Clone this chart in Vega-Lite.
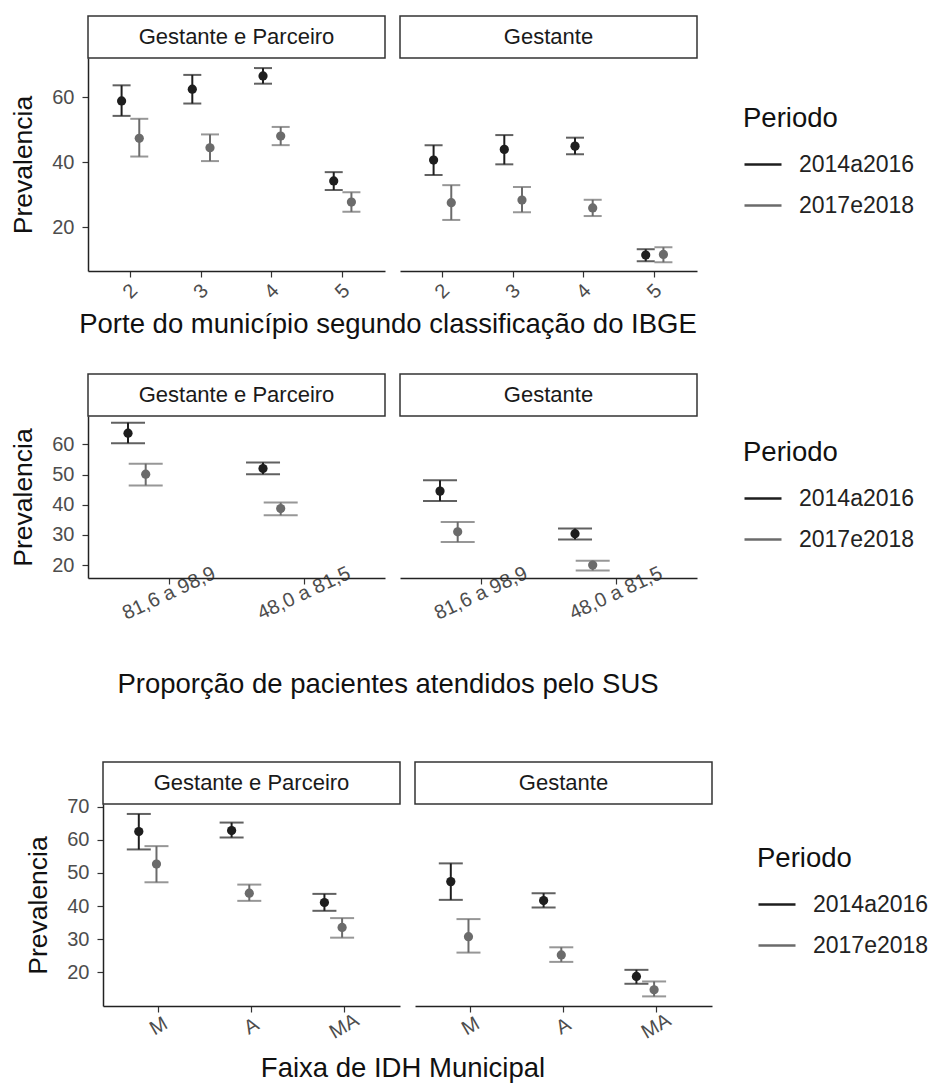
{
  "$schema": "https://vega.github.io/schema/vega-lite/v6.json",
  "padding": {"left": 3, "top": 13, "right": 2, "bottom": 0},
  "background": "white",
  "config": {
    "font": "Liberation Sans",
    "view": {"stroke": null},
    "axis": {"grid": false, "labelFontSize": 20, "labelColor": "#4d4d4d", "tickColor": "#333333", "tickSize": 6, "tickWidth": 1.2, "domainColor": "#222222", "domainWidth": 1.5, "titleFontSize": 26.5, "titleFontWeight": "normal", "titleColor": "#111111"},
    "legend": {"titleFontSize": 27.5, "titleFontWeight": "normal", "titleColor": "#111111", "labelFontSize": 23, "labelColor": "#222222", "symbolType": "stroke", "symbolSize": 1369, "symbolStrokeWidth": 2.5, "labelOffset": 16, "rowPadding": 9, "titlePadding": 12, "padding": 0},
    "title": {"fontSize": 27.5, "fontWeight": "normal", "color": "#111111"}
  },
  "datasets": {
    "porte": [
      {"panel": "Gestante e Parceiro", "cat": "2", "Periodo": "2014a2016", "prev": 58.8, "lo": 54.2, "hi": 63.6},
      {"panel": "Gestante e Parceiro", "cat": "2", "Periodo": "2017e2018", "prev": 47.3, "lo": 41.7, "hi": 53.3},
      {"panel": "Gestante e Parceiro", "cat": "3", "Periodo": "2014a2016", "prev": 62.4, "lo": 58.0, "hi": 66.8},
      {"panel": "Gestante e Parceiro", "cat": "3", "Periodo": "2017e2018", "prev": 44.4, "lo": 40.3, "hi": 48.5},
      {"panel": "Gestante e Parceiro", "cat": "4", "Periodo": "2014a2016", "prev": 66.5, "lo": 64.1, "hi": 68.9},
      {"panel": "Gestante e Parceiro", "cat": "4", "Periodo": "2017e2018", "prev": 48.0, "lo": 45.2, "hi": 50.8},
      {"panel": "Gestante e Parceiro", "cat": "5", "Periodo": "2014a2016", "prev": 34.2, "lo": 31.4, "hi": 36.9},
      {"panel": "Gestante e Parceiro", "cat": "5", "Periodo": "2017e2018", "prev": 27.7, "lo": 24.7, "hi": 30.7},
      {"panel": "Gestante", "cat": "2", "Periodo": "2014a2016", "prev": 40.6, "lo": 36.0, "hi": 45.2},
      {"panel": "Gestante", "cat": "2", "Periodo": "2017e2018", "prev": 27.5, "lo": 22.2, "hi": 32.9},
      {"panel": "Gestante", "cat": "3", "Periodo": "2014a2016", "prev": 43.9, "lo": 39.3, "hi": 48.3},
      {"panel": "Gestante", "cat": "3", "Periodo": "2017e2018", "prev": 28.3, "lo": 24.6, "hi": 32.3},
      {"panel": "Gestante", "cat": "4", "Periodo": "2014a2016", "prev": 44.9, "lo": 42.4, "hi": 47.5},
      {"panel": "Gestante", "cat": "4", "Periodo": "2017e2018", "prev": 25.9, "lo": 23.4, "hi": 28.4},
      {"panel": "Gestante", "cat": "5", "Periodo": "2014a2016", "prev": 11.4, "lo": 9.5, "hi": 13.2},
      {"panel": "Gestante", "cat": "5", "Periodo": "2017e2018", "prev": 11.6, "lo": 9.2, "hi": 13.8}
    ],
    "sus": [
      {"panel": "Gestante e Parceiro", "cat": "81,6 a 98,9", "Periodo": "2014a2016", "prev": 63.7, "lo": 60.4, "hi": 67.2},
      {"panel": "Gestante e Parceiro", "cat": "81,6 a 98,9", "Periodo": "2017e2018", "prev": 50.1, "lo": 46.4, "hi": 53.6},
      {"panel": "Gestante e Parceiro", "cat": "48,0 a 81,5", "Periodo": "2014a2016", "prev": 52.0, "lo": 50.1, "hi": 54.0},
      {"panel": "Gestante e Parceiro", "cat": "48,0 a 81,5", "Periodo": "2017e2018", "prev": 38.7, "lo": 36.5, "hi": 40.7},
      {"panel": "Gestante", "cat": "81,6 a 98,9", "Periodo": "2014a2016", "prev": 44.5, "lo": 41.2, "hi": 48.1},
      {"panel": "Gestante", "cat": "81,6 a 98,9", "Periodo": "2017e2018", "prev": 31.0, "lo": 27.6, "hi": 34.3},
      {"panel": "Gestante", "cat": "48,0 a 81,5", "Periodo": "2014a2016", "prev": 30.4, "lo": 28.5, "hi": 32.1},
      {"panel": "Gestante", "cat": "48,0 a 81,5", "Periodo": "2017e2018", "prev": 20.0, "lo": 18.2, "hi": 21.4}
    ],
    "idh": [
      {"panel": "Gestante e Parceiro", "cat": "M", "Periodo": "2014a2016", "prev": 62.5, "lo": 57.1, "hi": 67.8},
      {"panel": "Gestante e Parceiro", "cat": "M", "Periodo": "2017e2018", "prev": 52.7, "lo": 47.2, "hi": 58.1},
      {"panel": "Gestante e Parceiro", "cat": "A", "Periodo": "2014a2016", "prev": 62.8, "lo": 60.7, "hi": 65.2},
      {"panel": "Gestante e Parceiro", "cat": "A", "Periodo": "2017e2018", "prev": 43.9, "lo": 41.6, "hi": 46.5},
      {"panel": "Gestante e Parceiro", "cat": "MA", "Periodo": "2014a2016", "prev": 41.1, "lo": 38.6, "hi": 43.7},
      {"panel": "Gestante e Parceiro", "cat": "MA", "Periodo": "2017e2018", "prev": 33.6, "lo": 30.5, "hi": 36.4},
      {"panel": "Gestante", "cat": "M", "Periodo": "2014a2016", "prev": 47.4, "lo": 41.9, "hi": 52.9},
      {"panel": "Gestante", "cat": "M", "Periodo": "2017e2018", "prev": 30.8, "lo": 26.0, "hi": 36.1},
      {"panel": "Gestante", "cat": "A", "Periodo": "2014a2016", "prev": 41.7, "lo": 39.6, "hi": 43.9},
      {"panel": "Gestante", "cat": "A", "Periodo": "2017e2018", "prev": 25.3, "lo": 23.2, "hi": 27.6},
      {"panel": "Gestante", "cat": "MA", "Periodo": "2014a2016", "prev": 18.8, "lo": 16.6, "hi": 20.8},
      {"panel": "Gestante", "cat": "MA", "Periodo": "2017e2018", "prev": 14.8, "lo": 12.8, "hi": 17.3}
    ]
  },
  "spacing": 34,
  "vconcat": [
    {
      "spacing": 0,
      "hconcat": [
        {"width": 1, "height": 1, "data": {"values": [{"s": 0}]}, "mark": {"type": "point", "opacity": 0}, "encoding": {}},
        {
          "title": {"text": "Porte do município segundo classificação do IBGE", "orient": "bottom", "anchor": "start", "frame": "group", "align": "center", "dx": 300, "offset": 9},
          "columns": 2,
          "spacing": {"row": 0, "column": 15},
          "bounds": "flush",
          "resolve": {"scale": {"color": "independent"}},
          "concat": [
            {"width": 297, "height": 42, "view": {"stroke": "#333333", "strokeWidth": 1.5}, "data": {"values": [{"panel": "Gestante e Parceiro"}]}, "mark": {"type": "text", "fontSize": 22, "color": "#1a1a1a"}, "encoding": {"text": {"field": "panel", "type": "nominal"}}},
            {"width": 297, "height": 42, "view": {"stroke": "#333333", "strokeWidth": 1.5}, "data": {"values": [{"panel": "Gestante"}]}, "mark": {"type": "text", "fontSize": 22, "color": "#1a1a1a"}, "encoding": {"text": {"field": "panel", "type": "nominal"}}},
            {
              "width": 297, "height": 213,
              "data": {"name": "porte"},
              "transform": [{"filter": {"field": "panel", "equal": "Gestante e Parceiro"}}],
              "encoding": {
                "x": {"field": "cat", "type": "nominal", "sort": ["2", "3", "4", "5"], "scale": {"type": "band", "paddingInner": 0, "paddingOuter": 0.1}, "axis": {"title": null, "labelAngle": -45, "labelAlign": "center", "labelBaseline": "middle", "labelPadding": 14}},
                "xOffset": {"field": "Periodo", "type": "nominal", "sort": ["2014a2016", "2017e2018"], "scale": {"paddingInner": 0, "paddingOuter": 2.333}}
              },
              "layer": [
                {"mark": {"type": "rule", "strokeWidth": 2}, "encoding": {"y": {"field": "lo", "type": "quantitative", "scale": {"domain": [6.5, 72], "nice": false, "zero": false}, "axis": {"title": "Prevalencia", "values": [20, 40, 60], "labelPadding": 8, "titlePadding": 14}}, "y2": {"field": "hi"}, "color": {"field": "Periodo", "type": "nominal", "scale": {"domain": ["2014a2016", "2017e2018"], "range": ["#1e1e1e", "#6b6b6b"]}, "legend": null}}},
                {"mark": {"type": "tick", "size": 18, "thickness": 2}, "encoding": {"y": {"field": "lo", "type": "quantitative", "scale": {"domain": [6.5, 72], "nice": false, "zero": false}, "axis": {"title": "Prevalencia", "values": [20, 40, 60], "labelPadding": 8, "titlePadding": 14}}, "color": {"field": "Periodo", "type": "nominal", "scale": {"domain": ["2014a2016", "2017e2018"], "range": ["#1e1e1e", "#6b6b6b"]}, "legend": null}}},
                {"mark": {"type": "tick", "size": 18, "thickness": 2}, "encoding": {"y": {"field": "hi", "type": "quantitative", "scale": {"domain": [6.5, 72], "nice": false, "zero": false}, "axis": {"title": "Prevalencia", "values": [20, 40, 60], "labelPadding": 8, "titlePadding": 14}}, "color": {"field": "Periodo", "type": "nominal", "scale": {"domain": ["2014a2016", "2017e2018"], "range": ["#1e1e1e", "#6b6b6b"]}, "legend": null}}},
                {"mark": {"type": "point", "filled": true, "size": 85, "opacity": 1}, "encoding": {"y": {"field": "prev", "type": "quantitative", "scale": {"domain": [6.5, 72], "nice": false, "zero": false}, "axis": {"title": "Prevalencia", "values": [20, 40, 60], "labelPadding": 8, "titlePadding": 14}}, "color": {"field": "Periodo", "type": "nominal", "scale": {"domain": ["2014a2016", "2017e2018"], "range": ["#1e1e1e", "#6b6b6b"]}, "legend": null}}}
              ]
            },
            {
              "width": 297, "height": 213,
              "data": {"name": "porte"},
              "transform": [{"filter": {"field": "panel", "equal": "Gestante"}}],
              "encoding": {
                "x": {"field": "cat", "type": "nominal", "sort": ["2", "3", "4", "5"], "scale": {"type": "band", "paddingInner": 0, "paddingOuter": 0.1}, "axis": {"title": null, "labelAngle": -45, "labelAlign": "center", "labelBaseline": "middle", "labelPadding": 14}},
                "xOffset": {"field": "Periodo", "type": "nominal", "sort": ["2014a2016", "2017e2018"], "scale": {"paddingInner": 0, "paddingOuter": 2.333}}
              },
              "layer": [
                {"mark": {"type": "rule", "strokeWidth": 2}, "encoding": {"y": {"field": "lo", "type": "quantitative", "scale": {"domain": [6.5, 72], "nice": false, "zero": false}, "axis": null}, "y2": {"field": "hi"}, "color": {"field": "Periodo", "type": "nominal", "scale": {"domain": ["2014a2016", "2017e2018"], "range": ["#1e1e1e", "#6b6b6b"]}, "legend": {"title": "Periodo", "orient": "none", "legendX": 343, "legendY": 47}}}},
                {"mark": {"type": "tick", "size": 18, "thickness": 2}, "encoding": {"y": {"field": "lo", "type": "quantitative", "scale": {"domain": [6.5, 72], "nice": false, "zero": false}, "axis": null}, "color": {"field": "Periodo", "type": "nominal", "scale": {"domain": ["2014a2016", "2017e2018"], "range": ["#1e1e1e", "#6b6b6b"]}, "legend": null}}},
                {"mark": {"type": "tick", "size": 18, "thickness": 2}, "encoding": {"y": {"field": "hi", "type": "quantitative", "scale": {"domain": [6.5, 72], "nice": false, "zero": false}, "axis": null}, "color": {"field": "Periodo", "type": "nominal", "scale": {"domain": ["2014a2016", "2017e2018"], "range": ["#1e1e1e", "#6b6b6b"]}, "legend": null}}},
                {"mark": {"type": "point", "filled": true, "size": 85, "opacity": 1}, "encoding": {"y": {"field": "prev", "type": "quantitative", "scale": {"domain": [6.5, 72], "nice": false, "zero": false}, "axis": null}, "color": {"field": "Periodo", "type": "nominal", "scale": {"domain": ["2014a2016", "2017e2018"], "range": ["#1e1e1e", "#6b6b6b"]}, "legend": null}}}
              ]
            }
          ]
        }
      ]
    },
    {
      "spacing": 0,
      "hconcat": [
        {"width": 1, "height": 351, "data": {"values": [{"s": 0}]}, "mark": {"type": "point", "opacity": 0}, "encoding": {}},
        {
          "title": {"text": "Proporção de pacientes atendidos pelo SUS", "orient": "bottom", "anchor": "start", "frame": "group", "align": "center", "dx": 300, "offset": 48},
          "columns": 2,
          "spacing": {"row": 0, "column": 15},
          "bounds": "flush",
          "resolve": {"scale": {"color": "independent"}},
          "concat": [
            {"width": 297, "height": 42, "view": {"stroke": "#333333", "strokeWidth": 1.5}, "data": {"values": [{"panel": "Gestante e Parceiro"}]}, "mark": {"type": "text", "fontSize": 22, "color": "#1a1a1a"}, "encoding": {"text": {"field": "panel", "type": "nominal"}}},
            {"width": 297, "height": 42, "view": {"stroke": "#333333", "strokeWidth": 1.5}, "data": {"values": [{"panel": "Gestante"}]}, "mark": {"type": "text", "fontSize": 22, "color": "#1a1a1a"}, "encoding": {"text": {"field": "panel", "type": "nominal"}}},
            {
              "width": 297, "height": 162,
              "data": {"name": "sus"},
              "transform": [{"filter": {"field": "panel", "equal": "Gestante e Parceiro"}}],
              "encoding": {
                "x": {"field": "cat", "type": "nominal", "sort": ["81,6 a 98,9", "48,0 a 81,5"], "scale": {"type": "band", "paddingInner": 0, "paddingOuter": 0.1}, "axis": {"title": null, "labelAngle": -25, "labelAlign": "center", "labelBaseline": "middle", "labelPadding": 9}},
                "xOffset": {"field": "Periodo", "type": "nominal", "sort": ["2014a2016", "2017e2018"], "scale": {"paddingInner": 0, "paddingOuter": 2.333}}
              },
              "layer": [
                {"mark": {"type": "rule", "strokeWidth": 2}, "encoding": {"y": {"field": "lo", "type": "quantitative", "scale": {"domain": [15.7, 69.4], "nice": false, "zero": false}, "axis": {"title": "Prevalencia", "values": [20, 30, 40, 50, 60], "labelPadding": 8, "titlePadding": 14}}, "y2": {"field": "hi"}, "color": {"field": "Periodo", "type": "nominal", "scale": {"domain": ["2014a2016", "2017e2018"], "range": ["#1e1e1e", "#6b6b6b"]}, "legend": null}}},
                {"mark": {"type": "tick", "size": 34, "thickness": 2}, "encoding": {"y": {"field": "lo", "type": "quantitative", "scale": {"domain": [15.7, 69.4], "nice": false, "zero": false}, "axis": {"title": "Prevalencia", "values": [20, 30, 40, 50, 60], "labelPadding": 8, "titlePadding": 14}}, "color": {"field": "Periodo", "type": "nominal", "scale": {"domain": ["2014a2016", "2017e2018"], "range": ["#1e1e1e", "#6b6b6b"]}, "legend": null}}},
                {"mark": {"type": "tick", "size": 34, "thickness": 2}, "encoding": {"y": {"field": "hi", "type": "quantitative", "scale": {"domain": [15.7, 69.4], "nice": false, "zero": false}, "axis": {"title": "Prevalencia", "values": [20, 30, 40, 50, 60], "labelPadding": 8, "titlePadding": 14}}, "color": {"field": "Periodo", "type": "nominal", "scale": {"domain": ["2014a2016", "2017e2018"], "range": ["#1e1e1e", "#6b6b6b"]}, "legend": null}}},
                {"mark": {"type": "point", "filled": true, "size": 85, "opacity": 1}, "encoding": {"y": {"field": "prev", "type": "quantitative", "scale": {"domain": [15.7, 69.4], "nice": false, "zero": false}, "axis": {"title": "Prevalencia", "values": [20, 30, 40, 50, 60], "labelPadding": 8, "titlePadding": 14}}, "color": {"field": "Periodo", "type": "nominal", "scale": {"domain": ["2014a2016", "2017e2018"], "range": ["#1e1e1e", "#6b6b6b"]}, "legend": null}}}
              ]
            },
            {
              "width": 297, "height": 162,
              "data": {"name": "sus"},
              "transform": [{"filter": {"field": "panel", "equal": "Gestante"}}],
              "encoding": {
                "x": {"field": "cat", "type": "nominal", "sort": ["81,6 a 98,9", "48,0 a 81,5"], "scale": {"type": "band", "paddingInner": 0, "paddingOuter": 0.1}, "axis": {"title": null, "labelAngle": -25, "labelAlign": "center", "labelBaseline": "middle", "labelPadding": 9}},
                "xOffset": {"field": "Periodo", "type": "nominal", "sort": ["2014a2016", "2017e2018"], "scale": {"paddingInner": 0, "paddingOuter": 2.333}}
              },
              "layer": [
                {"mark": {"type": "rule", "strokeWidth": 2}, "encoding": {"y": {"field": "lo", "type": "quantitative", "scale": {"domain": [15.7, 69.4], "nice": false, "zero": false}, "axis": null}, "y2": {"field": "hi"}, "color": {"field": "Periodo", "type": "nominal", "scale": {"domain": ["2014a2016", "2017e2018"], "range": ["#1e1e1e", "#6b6b6b"]}, "legend": {"title": "Periodo", "orient": "none", "legendX": 343, "legendY": 23}}}},
                {"mark": {"type": "tick", "size": 34, "thickness": 2}, "encoding": {"y": {"field": "lo", "type": "quantitative", "scale": {"domain": [15.7, 69.4], "nice": false, "zero": false}, "axis": null}, "color": {"field": "Periodo", "type": "nominal", "scale": {"domain": ["2014a2016", "2017e2018"], "range": ["#1e1e1e", "#6b6b6b"]}, "legend": null}}},
                {"mark": {"type": "tick", "size": 34, "thickness": 2}, "encoding": {"y": {"field": "hi", "type": "quantitative", "scale": {"domain": [15.7, 69.4], "nice": false, "zero": false}, "axis": null}, "color": {"field": "Periodo", "type": "nominal", "scale": {"domain": ["2014a2016", "2017e2018"], "range": ["#1e1e1e", "#6b6b6b"]}, "legend": null}}},
                {"mark": {"type": "point", "filled": true, "size": 85, "opacity": 1}, "encoding": {"y": {"field": "prev", "type": "quantitative", "scale": {"domain": [15.7, 69.4], "nice": false, "zero": false}, "axis": null}, "color": {"field": "Periodo", "type": "nominal", "scale": {"domain": ["2014a2016", "2017e2018"], "range": ["#1e1e1e", "#6b6b6b"]}, "legend": null}}}
              ]
            }
          ]
        }
      ]
    },
    {
      "spacing": 15,
      "hconcat": [
        {"width": 1, "height": 1, "data": {"values": [{"s": 0}]}, "mark": {"type": "point", "opacity": 0}, "encoding": {}},
        {
          "title": {"text": "Faixa de IDH Municipal", "orient": "bottom", "anchor": "start", "frame": "group", "align": "center", "dx": 300, "offset": 13},
          "columns": 2,
          "spacing": {"row": 0, "column": 15},
          "bounds": "flush",
          "resolve": {"scale": {"color": "independent"}},
          "concat": [
            {"width": 297, "height": 42, "view": {"stroke": "#333333", "strokeWidth": 1.5}, "data": {"values": [{"panel": "Gestante e Parceiro"}]}, "mark": {"type": "text", "fontSize": 22, "color": "#1a1a1a"}, "encoding": {"text": {"field": "panel", "type": "nominal"}}},
            {"width": 297, "height": 42, "view": {"stroke": "#333333", "strokeWidth": 1.5}, "data": {"values": [{"panel": "Gestante"}]}, "mark": {"type": "text", "fontSize": 22, "color": "#1a1a1a"}, "encoding": {"text": {"field": "panel", "type": "nominal"}}},
            {
              "width": 297, "height": 202,
              "data": {"name": "idh"},
              "transform": [{"filter": {"field": "panel", "equal": "Gestante e Parceiro"}}],
              "encoding": {
                "x": {"field": "cat", "type": "nominal", "sort": ["M", "A", "MA"], "scale": {"type": "band", "paddingInner": 0, "paddingOuter": 0.1}, "axis": {"title": null, "labelAngle": -30, "labelAlign": "center", "labelBaseline": "middle", "labelPadding": 14}},
                "xOffset": {"field": "Periodo", "type": "nominal", "sort": ["2014a2016", "2017e2018"], "scale": {"paddingInner": 0, "paddingOuter": 2.333}}
              },
              "layer": [
                {"mark": {"type": "rule", "strokeWidth": 2}, "encoding": {"y": {"field": "lo", "type": "quantitative", "scale": {"domain": [9.9, 70.8], "nice": false, "zero": false}, "axis": {"title": "Prevalencia", "values": [20, 30, 40, 50, 60, 70], "labelPadding": 8, "titlePadding": 14}}, "y2": {"field": "hi"}, "color": {"field": "Periodo", "type": "nominal", "scale": {"domain": ["2014a2016", "2017e2018"], "range": ["#1e1e1e", "#6b6b6b"]}, "legend": null}}},
                {"mark": {"type": "tick", "size": 24, "thickness": 2}, "encoding": {"y": {"field": "lo", "type": "quantitative", "scale": {"domain": [9.9, 70.8], "nice": false, "zero": false}, "axis": {"title": "Prevalencia", "values": [20, 30, 40, 50, 60, 70], "labelPadding": 8, "titlePadding": 14}}, "color": {"field": "Periodo", "type": "nominal", "scale": {"domain": ["2014a2016", "2017e2018"], "range": ["#1e1e1e", "#6b6b6b"]}, "legend": null}}},
                {"mark": {"type": "tick", "size": 24, "thickness": 2}, "encoding": {"y": {"field": "hi", "type": "quantitative", "scale": {"domain": [9.9, 70.8], "nice": false, "zero": false}, "axis": {"title": "Prevalencia", "values": [20, 30, 40, 50, 60, 70], "labelPadding": 8, "titlePadding": 14}}, "color": {"field": "Periodo", "type": "nominal", "scale": {"domain": ["2014a2016", "2017e2018"], "range": ["#1e1e1e", "#6b6b6b"]}, "legend": null}}},
                {"mark": {"type": "point", "filled": true, "size": 85, "opacity": 1}, "encoding": {"y": {"field": "prev", "type": "quantitative", "scale": {"domain": [9.9, 70.8], "nice": false, "zero": false}, "axis": {"title": "Prevalencia", "values": [20, 30, 40, 50, 60, 70], "labelPadding": 8, "titlePadding": 14}}, "color": {"field": "Periodo", "type": "nominal", "scale": {"domain": ["2014a2016", "2017e2018"], "range": ["#1e1e1e", "#6b6b6b"]}, "legend": null}}}
              ]
            },
            {
              "width": 297, "height": 202,
              "data": {"name": "idh"},
              "transform": [{"filter": {"field": "panel", "equal": "Gestante"}}],
              "encoding": {
                "x": {"field": "cat", "type": "nominal", "sort": ["M", "A", "MA"], "scale": {"type": "band", "paddingInner": 0, "paddingOuter": 0.1}, "axis": {"title": null, "labelAngle": -30, "labelAlign": "center", "labelBaseline": "middle", "labelPadding": 14}},
                "xOffset": {"field": "Periodo", "type": "nominal", "sort": ["2014a2016", "2017e2018"], "scale": {"paddingInner": 0, "paddingOuter": 2.333}}
              },
              "layer": [
                {"mark": {"type": "rule", "strokeWidth": 2}, "encoding": {"y": {"field": "lo", "type": "quantitative", "scale": {"domain": [9.9, 70.8], "nice": false, "zero": false}, "axis": null}, "y2": {"field": "hi"}, "color": {"field": "Periodo", "type": "nominal", "scale": {"domain": ["2014a2016", "2017e2018"], "range": ["#1e1e1e", "#6b6b6b"]}, "legend": {"title": "Periodo", "orient": "none", "legendX": 342, "legendY": 41}}}},
                {"mark": {"type": "tick", "size": 24, "thickness": 2}, "encoding": {"y": {"field": "lo", "type": "quantitative", "scale": {"domain": [9.9, 70.8], "nice": false, "zero": false}, "axis": null}, "color": {"field": "Periodo", "type": "nominal", "scale": {"domain": ["2014a2016", "2017e2018"], "range": ["#1e1e1e", "#6b6b6b"]}, "legend": null}}},
                {"mark": {"type": "tick", "size": 24, "thickness": 2}, "encoding": {"y": {"field": "hi", "type": "quantitative", "scale": {"domain": [9.9, 70.8], "nice": false, "zero": false}, "axis": null}, "color": {"field": "Periodo", "type": "nominal", "scale": {"domain": ["2014a2016", "2017e2018"], "range": ["#1e1e1e", "#6b6b6b"]}, "legend": null}}},
                {"mark": {"type": "point", "filled": true, "size": 85, "opacity": 1}, "encoding": {"y": {"field": "prev", "type": "quantitative", "scale": {"domain": [9.9, 70.8], "nice": false, "zero": false}, "axis": null}, "color": {"field": "Periodo", "type": "nominal", "scale": {"domain": ["2014a2016", "2017e2018"], "range": ["#1e1e1e", "#6b6b6b"]}, "legend": null}}}
              ]
            }
          ]
        }
      ]
    }
  ]
}
